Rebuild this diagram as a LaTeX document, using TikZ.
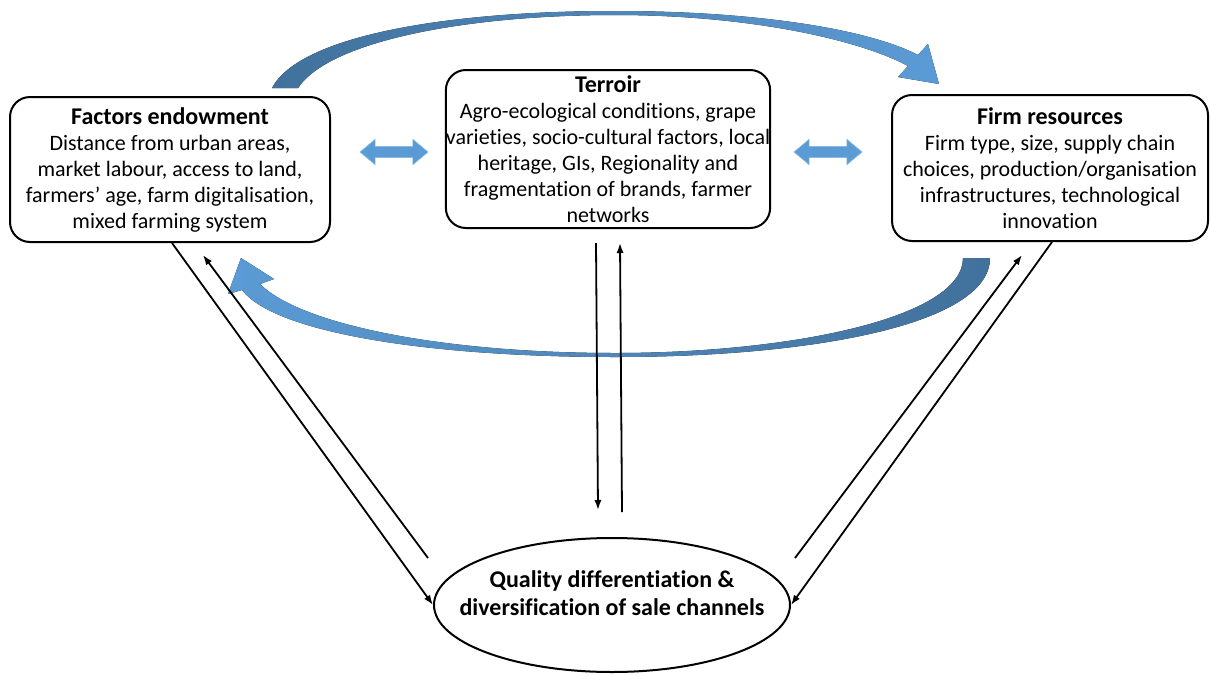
\documentclass[tikz,border=0pt]{standalone}
\usepackage{fontspec}
\setmainfont{Carlito}[Ligatures=NoCommon]
\usetikzlibrary{arrows.meta,shapes.geometric,shapes.arrows,positioning}
\definecolor{flowblue}{HTML}{5B9BD5}
\definecolor{flowdark}{HTML}{41719C}
\newcommand{\boxhead}[1]{{\fontsize{12}{13}\selectfont\bfseries #1}}
\tikzset{
  factorbox/.style={draw, line width=1pt, rounded corners=10pt, align=center,
    inner sep=0pt, font=\fontsize{11}{13}\selectfont},
  outcome/.style={draw, ellipse, line width=1pt, align=center,
    inner xsep=-40pt, inner ysep=-14pt, text depth=12pt,
    font=\fontsize{12}{14}\selectfont\bfseries},
  linkarrow/.style={line width=0.9pt, -{Latex[length=5pt,width=3.6pt]}},
  swaparrow/.style={double arrow, fill=flowblue, draw=flowblue!70!white,
    line width=0.3pt, minimum height=34pt, inner xsep=0pt, inner ysep=2.6pt,
    double arrow head extend=3.6pt, double arrow tip angle=80}
}
\begin{document}
\begin{tikzpicture}[x=0.5pt,y=-0.5pt]
  \useasboundingbox (0,0) rectangle (1210,675);
  % the three groups of factors
  \node[factorbox, minimum width=160pt, minimum height=72.5pt] (fe) at (170,169.5)
    {\boxhead{Factors endowment}\\ Distance from urban areas,\\ market labour, access to land,\\
     farmers’ age, farm digitalisation,\\ mixed farming system};
  \node[factorbox, minimum width=158.5pt, minimum height=79pt] (tr) at (608,149)
    {\boxhead{Terroir}\\ Agro-ecological conditions, grape\\ varieties, socio-cultural factors, local\\
     heritage, GIs, Regionality and\\ fragmentation of brands, farmer\\ networks};
  \node[factorbox, minimum width=158pt, minimum height=73pt] (rb) at (1050,168)
    {\boxhead{Firm resources}\\ Firm type, size, supply chain\\ choices, production/organisation\\
     infrastructures, technological\\ innovation};
  \node[outcome, minimum width=178pt, minimum height=67pt] (qd) at (612,605)
    {Quality differentiation \&\\ diversification of sale channels};
  % blue arrows between the boxes
  \node[swaparrow] (fe-tr) at (394,152) {};
  \node[swaparrow] (tr-rb) at (828,152) {};
  \fill[left color=flowdark, right color=flowblue]
    (272,88) .. controls (300,35) and (450,11) .. (615,11)
    .. controls (760,11) and (870,30) .. (918,55)
    -- (928,44) -- (939,84) -- (898,77) -- (908,66)
    .. controls (860,40) and (750,15) .. (615,15)
    .. controls (470,15) and (330,40) .. (298,88) -- cycle;
  \fill[left color=flowblue, right color=flowdark]
    (990,258) .. controls (990,325) and (810,357) .. (615,357)
    .. controls (430,357) and (275,333) .. (242,290)
    -- (228,294) -- (241,258) -- (274,279) -- (260,284)
    .. controls (300,324) and (440,353) .. (615,353)
    .. controls (790,353) and (963,318) .. (963,258) -- cycle;
  % links with the outcome
  \coordinate (fe-up) at (203,255);
  \coordinate (fe-low) at (428,558);
  \coordinate (tr-a) at (596,243);
  \coordinate (tr-b) at (598,510);
  \coordinate (tr-c) at (622,512);
  \coordinate (tr-d) at (620,243);
  \coordinate (rb-up) at (1022,255);
  \coordinate (rb-low) at (795,558);
  \draw[linkarrow] ([xshift=1pt]fe.south) -- (qd.west);
  \draw[linkarrow] (fe-low) -- (fe-up);
  \draw[linkarrow] (tr-a) -- (tr-b);
  \draw[linkarrow] (tr-c) -- (tr-d);
  \draw[linkarrow] (rb-low) -- (rb-up);
  \draw[linkarrow] ([xshift=1pt]rb.south) -- (qd.east);
\end{tikzpicture}
\end{document}
